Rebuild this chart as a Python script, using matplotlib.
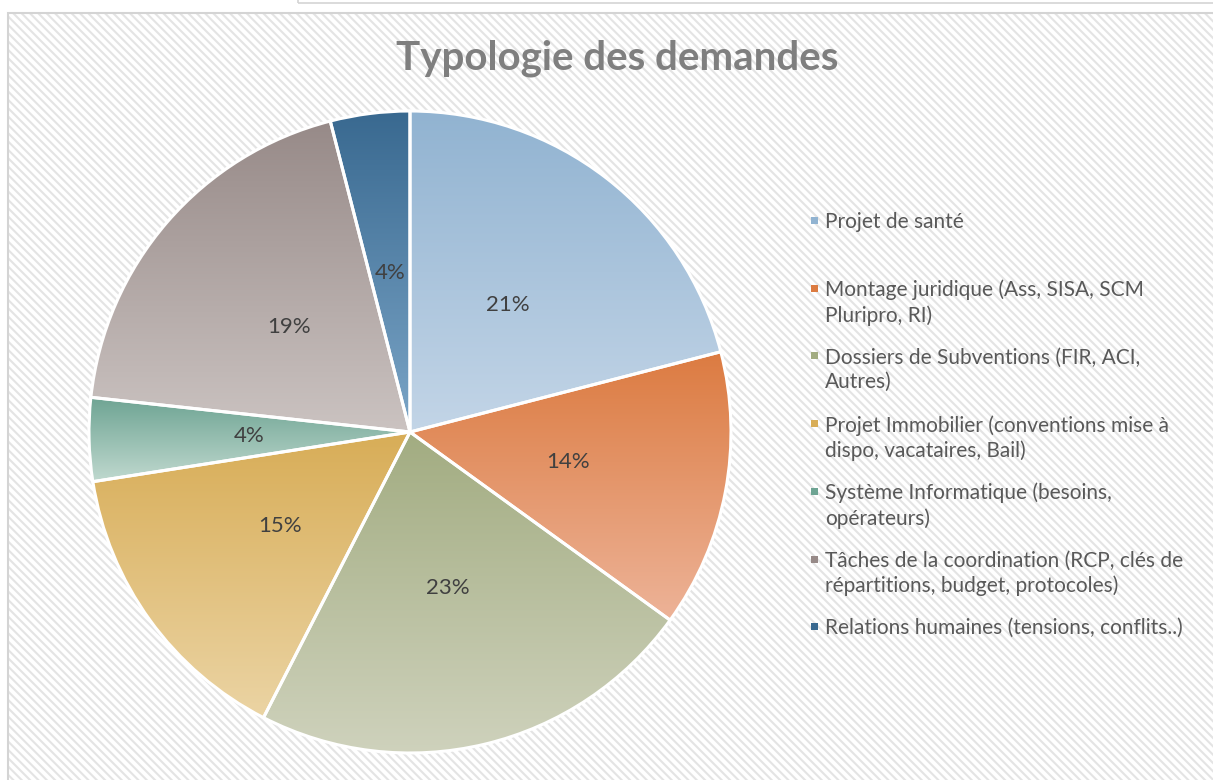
import numpy as np
import matplotlib
matplotlib.use("Agg")
import matplotlib.pyplot as plt
from matplotlib.colors import to_rgb
from matplotlib.patches import Rectangle

# ---- data ----
categories = [
    "Projet de santé",
    "Montage juridique (Ass, SISA, SCM\nPluripro, RI)",
    "Dossiers de Subventions (FIR, ACI,\nAutres)",
    "Projet Immobilier (conventions mise à\ndispo, vacataires, Bail)",
    "Système Informatique (besoins,\nopérateurs)",
    "Tâches de la coordination (RCP, clés de\nrépartitions, budget, protocoles)",
    "Relations humaines (tensions, conflits..)",
]
values = [21, 14, 22.6, 15, 4.2, 19.3, 4.0]
title = "Typologie des demandes"

top_colors = ["#91b3d1", "#dc7b41", "#a2ac81", "#d8ad57", "#6ea493", "#978a88", "#396990"]
bottom_colors = ["#c3d5e7", "#edb398", "#d0d3be", "#ebd4a4", "#c0d9cf", "#cbc3c1", "#7ba5c7"]

FONT = "Lato"
W, H = 1213, 780
fig = plt.figure(figsize=(W / 100, H / 100), dpi=100)
fig.patch.set_facecolor("white")

# hatched chart-area background with border
plt.rcParams["hatch.linewidth"] = 1.5
bg = Rectangle((8 / W, 0), (W - 8) / W + 0.01, (H - 13) / H, transform=fig.transFigure,
               facecolor="white", edgecolor="#e4e4e4", hatch="\\\\\\\\", linewidth=0, zorder=-2)
fig.patches.append(bg)
border = Rectangle((8 / W, -0.01), (W - 8) / W + 0.02, (H - 13) / H + 0.01, transform=fig.transFigure,
                   facecolor="none", edgecolor="#d4d4d4", linewidth=1.5, zorder=-1)
fig.patches.append(border)
topbox = Rectangle((298 / W, (H - 3) / H), (W - 298) / W + 0.01, 0.02, transform=fig.transFigure,
                   facecolor="none", edgecolor="#d4d4d4", linewidth=1.2, zorder=-1)
fig.patches.append(topbox)

# pie axes
cx, cy, R = 410, 432, 321
ax = fig.add_axes([(cx - R) / W, (H - cy - R) / H, 2 * R / W, 2 * R / H])
ax.set_facecolor("none")
wedges, texts, autotexts = ax.pie(
    values, startangle=90, counterclock=False, radius=1.0,
    autopct=lambda p: f"{p:.0f}%", pctdistance=0.5,
    wedgeprops=dict(edgecolor="white", linewidth=2.2),
    textprops=dict(fontsize=16, color="#404040", family=FONT),
)
for i, w in enumerate(wedges):
    verts = w.get_path().vertices
    xmin, xmax = verts[:, 0].min(), verts[:, 0].max()
    ymin, ymax = verts[:, 1].min(), verts[:, 1].max()
    c0 = np.array(to_rgb(bottom_colors[i]))
    c1 = np.array(to_rgb(top_colors[i]))
    t = np.linspace(0, 1, 256)[:, None]
    grad = (c0[None, :] * (1 - t) + c1[None, :] * t)[:, None, :]
    im = ax.imshow(grad, extent=[xmin, xmax, ymin, ymax], origin="lower",
                   aspect="auto", zorder=1, interpolation="bilinear")
    im.set_clip_path(w)
    w.set_facecolor("none")
    w.set_zorder(2)
for t in autotexts:
    t.set_zorder(3)
ax.set_xlim(-1.0, 1.0)
ax.set_ylim(-1.0, 1.0)
ax.set_aspect("equal")
ax.axis("off")

# title
fig.text(617 / W, 1 - 58 / H, title, ha="center", va="center", fontsize=29,
         fontweight="bold", color="#7f7f7f", family=FONT)

# legend (manual, fixed spacing)
y0 = 220
step = 67.7
for i, lab in enumerate(categories):
    y = y0 + i * step
    fig.patches.append(Rectangle((811 / W, 1 - (y + 4) / H), 7 / W, 7 / H,
                                 transform=fig.transFigure, facecolor=top_colors[i],
                                 edgecolor="none", zorder=3))
    fig.text(825 / W, 1 - (y - 8) / H, lab, ha="left", va="top", fontsize=15,
             color="#595959", family=FONT, linespacing=1.3)

fig.savefig("out.png", dpi=100)
